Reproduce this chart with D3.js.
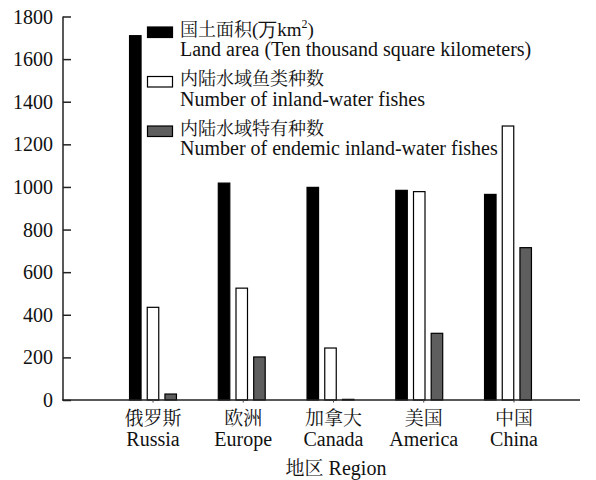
<!DOCTYPE html>
<html><head><meta charset="utf-8">
<script src="https://cdn.jsdelivr.net/npm/d3@7"></script>
<style>body{margin:0;background:#fff}svg{display:block}</style>
</head><body>
<svg id="c" width="596" height="480"></svg>
<script>
const categoriesCN = ["俄罗斯","欧洲","加拿大","美国","中国"];
const categoriesEN = ["Russia","Europe","Canada","America","China"];
const landArea = [1710, 1018, 998, 984, 965];
const inlandFishes = [435, 525, 244, 978, 1286];
const endemicFishes = [28, 202, 3, 313, 715];
const yTicks = [0,200,400,600,800,1000,1200,1400,1600,1800];
const seriesCN = ["国土面积(万km²)","内陆水域鱼类种数","内陆水域特有种数"];
const seriesEN = ["Land area (Ten thousand square kilometers)","Number of inland-water fishes","Number of endemic inland-water fishes"];
const xTitle = "地区 Region";

const font = "'Liberation Serif','Times New Roman',serif";
const cjk = "'Noto Serif CJK SC','Noto Sans CJK SC',serif";
const svg = d3.select("#c");
const y = d3.scaleLinear().domain([0,1800]).range([400,16.5]);
const xBars = d3.scalePoint().domain(d3.range(5)).range([153,508]);
const xLab = d3.scalePoint().domain(d3.range(5)).range([153,514]);
const barW = 11.5, step = 17.7;
const fills = ["#000","#fff","#5e5e5e"];
const series = [landArea, inlandFishes, endemicFishes];
const FS = 20, CFS = 19, LCFS = 18;

// bars
series.forEach((vals, s) => {
  svg.append("g").selectAll("rect").data(vals).join("rect")
    .attr("x", (d,i) => xBars(i) + (s-1)*step - barW/2)
    .attr("y", d => y(d))
    .attr("width", barW)
    .attr("height", d => y(0) - y(d))
    .attr("fill", fills[s])
    .attr("stroke", "#000")
    .attr("stroke-width", 1.2);
});

// y axis
const yAxis = d3.axisRight(y).tickValues(yTicks).tickSize(8).tickFormat("");
const gy = svg.append("g").attr("transform","translate(63,0)").call(yAxis);
gy.select(".domain").attr("stroke","#222").attr("stroke-width",1.5).attr("d","M0,16.5V400");
gy.selectAll(".tick line").attr("stroke","#222").attr("stroke-width",1.5);
svg.append("g").selectAll("text").data(yTicks).join("text")
  .attr("x",53).attr("y",d=>y(d)).attr("dy","0.35em")
  .attr("text-anchor","end").attr("font-family",font).attr("font-size",FS)
  .attr("fill","#111").text(d=>d);

// x axis
svg.append("line").attr("x1",62).attr("x2",580).attr("y1",400).attr("y2",400)
  .attr("stroke","#222").attr("stroke-width",1.5);
svg.append("g").selectAll("line").data(d3.range(5)).join("line")
  .attr("x1",i=>xLab(i)).attr("x2",i=>xLab(i)).attr("y1",400).attr("y2",402.5)
  .attr("stroke","#444").attr("stroke-width",1);

svg.append("g").selectAll("text").data(categoriesCN).join("text")
  .attr("x",(d,i)=>xLab(i)).attr("y",425).attr("text-anchor","middle")
  .attr("font-family",cjk).attr("font-size",CFS).attr("fill","#111").text(d=>d);
svg.append("g").selectAll("text").data(categoriesEN).join("text")
  .attr("x",(d,i)=>xLab(i)).attr("y",446).attr("text-anchor","middle")
  .attr("font-family",font).attr("font-size",FS).attr("fill","#111").text(d=>d);
svg.append("text").attr("x",336).attr("y",475).attr("text-anchor","middle")
  .attr("font-family",font).attr("font-size",FS).attr("fill","#111")
  .call(t=>{t.append("tspan").attr("font-family",cjk).attr("font-size",CFS).text("地区");
            t.append("tspan").text(" Region");});

// legend
const lg = svg.append("g");
seriesCN.forEach((name,s)=>{
  const yy = 27 + s*49.5;
  lg.append("rect").attr("x",147.5).attr("y",yy).attr("width",25).attr("height",10.5)
    .attr("fill",fills[s]).attr("stroke","#000").attr("stroke-width",1.2);
  const t = lg.append("text").attr("x",180).attr("y",yy+8.5).attr("font-family",cjk)
    .attr("font-size",LCFS).attr("fill","#111");
  if (s===0) {
    t.append("tspan").text("国土面积");
    t.append("tspan").attr("font-family",font).attr("font-size",FS-1).text("(万");
    t.append("tspan").attr("font-family",font).attr("font-size",FS-1).text("km");
    t.append("tspan").attr("font-family",font).attr("font-size",12).attr("dy",-8).text("2");
    t.append("tspan").attr("font-family",font).attr("font-size",FS-1).attr("dy",8).text(")");
  } else t.text(name);
  lg.append("text").attr("x",180).attr("y",yy+29).attr("font-family",font)
    .attr("font-size",FS).attr("fill","#111").text(seriesEN[s]);
});
</script>
</body></html>
